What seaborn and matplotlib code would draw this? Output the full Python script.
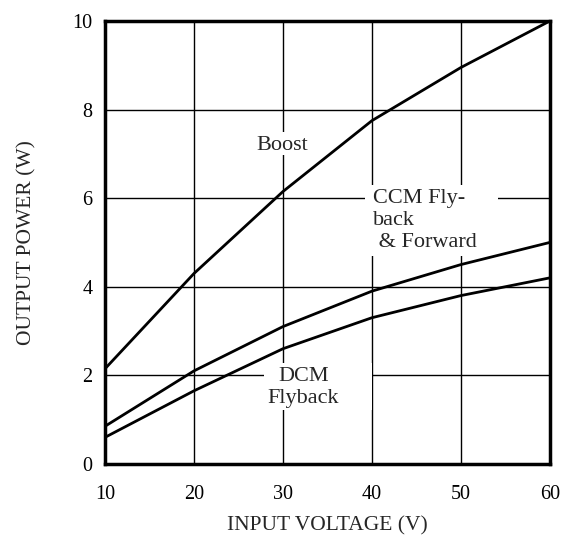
import pandas as pd
import matplotlib
matplotlib.use("Agg")
import matplotlib.pyplot as plt
from matplotlib.patches import Rectangle
import seaborn as sns

voltage = [10, 20, 30, 40, 50, 60]
boost = [2.15, 4.3, 6.15, 7.75, 8.95, 10.0]
ccm_flyback_forward = [0.85, 2.1, 3.1, 3.9, 4.5, 5.0]
dcm_flyback = [0.6, 1.65, 2.6, 3.3, 3.8, 4.2]

df = pd.concat([
    pd.DataFrame({"voltage": voltage, "power": boost, "topology": "Boost"}),
    pd.DataFrame({"voltage": voltage, "power": ccm_flyback_forward, "topology": "CCM"}),
    pd.DataFrame({"voltage": voltage, "power": dcm_flyback, "topology": "DCM"}),
])

sns.set_style("white")
plt.rcParams["font.family"] = ["Liberation Serif", "DejaVu Serif"]

fig, ax = plt.subplots(figsize=(5.65, 5.4), dpi=100)
fig.subplots_adjust(left=0.186, right=0.973, top=0.961, bottom=0.141)

sns.lineplot(data=df, x="voltage", y="power", units="topology", estimator=None,
             color="black", linewidth=2.0, ax=ax, zorder=3)

ax.set_xlim(10, 60)
ax.set_ylim(0, 10)
ax.set_xticks(range(10, 61, 10))
ax.set_yticks(range(0, 11, 2))
ax.grid(True, color="black", linewidth=1.0)
ax.set_axisbelow(True)
for s in ax.spines.values():
    s.set_color("black")
    s.set_linewidth(2.5)
ax.tick_params(axis="x", length=0, labelsize=14.5, colors="black", pad=15)
ax.tick_params(axis="y", length=0, labelsize=14.5, colors="black", pad=9)
ax.set_xlabel("INPUT VOLTAGE (V)", fontsize=15.5, labelpad=9)
ax.set_ylabel("OUTPUT POWER (W)", fontsize=15.5, labelpad=26)

# white masks behind the curve labels (grid is cut there)
for x0, y0, x1, y1 in [(26.8, 6.98, 33.0, 7.49), (39.2, 4.70, 54.2, 6.30), (27.9, 1.22, 40.0, 2.28)]:
    ax.add_patch(Rectangle((x0, y0), x1 - x0, y1 - y0, facecolor="white", edgecolor="none", zorder=1))

ax.text(29.9, 7.2, "Boost", ha="center", va="center", fontsize=16, zorder=4)
ax.text(40.1, 5.5, "CCM Fly-\nback\n & Forward", ha="left", va="center",
        fontsize=16, linespacing=1.2, zorder=4)
ax.text(32.3, 1.72, "DCM\nFlyback", ha="center", va="center", fontsize=16,
        linespacing=1.2, zorder=4)

fig.savefig("out.png", dpi=100)
